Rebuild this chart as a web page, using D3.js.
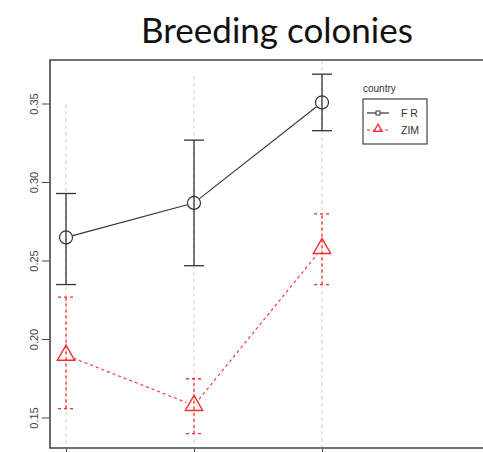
<!DOCTYPE html>
<html>
<head>
<meta charset="utf-8">
<script src="https://cdn.jsdelivr.net/npm/d3@7"></script>
<style>
body { margin: 0; background: #fff; }
svg { display: block; }
.axis text { font-family: "Liberation Sans", Arial, sans-serif; font-size: 11px; fill: #444; }
</style>
</head>
<body>
<svg id="chart" width="483" height="452"></svg>
<script>
// data
var groups = ["1", "2", "3"];
var frMean = [0.265, 0.287, 0.351];
var frLow  = [0.235, 0.247, 0.333];
var frHigh = [0.293, 0.327, 0.369];
var zimMean = [0.190, 0.158, 0.258];
var zimLow  = [0.156, 0.140, 0.235];
var zimHigh = [0.227, 0.175, 0.280];
var guideTop = [0.350, 0.368, 0.378];
var yTicks = [0.15, 0.20, 0.25, 0.30, 0.35];

var svg = d3.select("#chart");

var xScale = d3.scalePoint().domain(groups).range([66, 322]);
var yScale = d3.scaleLinear().domain([0.15, 0.35]).range([418, 104]);

var frame = {left: 50, top: 60, bottom: 448};

// title
svg.append("text")
	.attr("x", 277)
	.attr("y", 43)
	.attr("text-anchor", "middle")
	.attr("style", "font-family: Lato, 'Open Sans', sans-serif; font-size: 35px; fill: #111;")
	.text("Breeding colonies");

// light dashed guides at each group
svg.append("g").selectAll("line")
	.data(groups)
	.enter().append("line")
	.attr("x1", function(d) { return xScale(d); })
	.attr("x2", function(d) { return xScale(d); })
	.attr("y1", function(d, i) { return yScale(guideTop[i]); })
	.attr("y2", frame.bottom)
	.style("stroke", "#d0d0d0")
	.style("stroke-width", 1)
	.style("stroke-dasharray", "4,3");

// frame
svg.append("path")
	.attr("d", "M500," + frame.top + "H" + frame.left + "V" + frame.bottom + "H500")
	.style("fill", "none")
	.style("stroke", "#444")
	.style("stroke-width", 1.6);

// y axis
var yAxis = d3.axisLeft(yScale).tickValues(yTicks).tickFormat(d3.format(".2f")).tickSize(7);
var gy = svg.append("g")
	.attr("class", "axis")
	.attr("transform", "translate(" + (frame.left - 1) + ",0)")
	.call(yAxis);
gy.select(".domain").remove();
gy.selectAll("line").style("stroke", "#444");
gy.selectAll("text")
	.attr("x", 0)
	.attr("y", 0)
	.attr("text-anchor", "middle")
	.attr("dy", "0.35em")
	.attr("transform", function(d) { return "translate(-15," + yScale(d) + ") rotate(-90)"; });
gy.selectAll(".tick").attr("transform", null);
gy.selectAll(".tick line")
	.attr("y1", function(d) { return yScale(d); })
	.attr("y2", function(d) { return yScale(d); });

// x ticks (labels fall outside the picture)
var xAxis = d3.axisBottom(xScale).tickSize(6).tickFormat("");
var gx = svg.append("g")
	.attr("class", "axis")
	.attr("transform", "translate(0," + (frame.bottom + 1) + ")")
	.call(xAxis);
gx.select(".domain").remove();
gx.selectAll("line").style("stroke", "#444");

function series(mean, low, high, color, dash, cap, gap) {
	var g = svg.append("g");
	// connecting segments, trimmed at the markers
	for (var i = 0; i < mean.length - 1; i++) {
		var x1 = xScale(groups[i]), y1 = yScale(mean[i]);
		var x2 = xScale(groups[i + 1]), y2 = yScale(mean[i + 1]);
		var len = Math.sqrt((x2 - x1) * (x2 - x1) + (y2 - y1) * (y2 - y1));
		var ux = (x2 - x1) / len, uy = (y2 - y1) / len;
		g.append("line")
			.attr("x1", x1 + ux * gap).attr("y1", y1 + uy * gap)
			.attr("x2", x2 - ux * gap).attr("y2", y2 - uy * gap)
			.style("stroke", color)
			.style("stroke-width", 1.1)
			.style("stroke-dasharray", dash);
	}
	// error bars
	groups.forEach(function(d, i) {
		var x = xScale(d);
		g.append("line")
			.attr("x1", x).attr("x2", x)
			.attr("y1", yScale(low[i])).attr("y2", yScale(high[i]))
			.style("stroke", color).style("stroke-width", 1.3).style("stroke-dasharray", dash);
		[low[i], high[i]].forEach(function(v) {
			g.append("line")
				.attr("x1", x - cap).attr("x2", x + cap)
				.attr("y1", yScale(v)).attr("y2", yScale(v))
				.style("stroke", color).style("stroke-width", 1.3).style("stroke-dasharray", dash);
		});
	});
	return g;
}

var frG = series(frMean, frLow, frHigh, "#333", null, 10, 7);
frG.selectAll(".pt")
	.data(frMean)
	.enter().append("circle")
	.attr("cx", function(d, i) { return xScale(groups[i]); })
	.attr("cy", function(d) { return yScale(d); })
	.attr("r", 6.5)
	.style("fill", "none")
	.style("stroke", "#333")
	.style("stroke-width", 1.2);

var zimG = series(zimMean, zimLow, zimHigh, "#ff2a2a", "3,3", 8, 8);
var tri = d3.symbol().type(d3.symbolTriangle).size(130);
zimG.selectAll(".pt")
	.data(zimMean)
	.enter().append("path")
	.attr("d", tri)
	.attr("transform", function(d, i) { return "translate(" + xScale(groups[i]) + "," + yScale(d) + ")"; })
	.style("fill", "none")
	.style("stroke", "#ff2a2a")
	.style("stroke-width", 1.4);

// legend
var legend = svg.append("g").attr("transform", "translate(363,99)");
legend.append("text")
	.attr("x", 0).attr("y", -7)
	.attr("style", "font-family: 'Liberation Sans', Arial, sans-serif; font-size: 10px; fill: #333;")
	.text("country");
legend.append("rect")
	.attr("width", 64).attr("height", 45)
	.style("fill", "none").style("stroke", "#444").style("stroke-width", 1.2);
var keys = [
	{name: "F R", color: "#333", dash: null, y: 14},
	{name: "ZIM", color: "#ff2a2a", dash: "3,3", y: 31}
];
keys.forEach(function(k) {
	legend.append("line")
		.attr("x1", 4).attr("x2", 26).attr("y1", k.y).attr("y2", k.y)
		.style("stroke", k.color).style("stroke-width", 1.2).style("stroke-dasharray", k.dash);
	legend.append("text")
		.attr("x", 38).attr("y", k.y + 4)
		.attr("style", "font-family: 'Liberation Sans', Arial, sans-serif; font-size: 10.5px; fill: #333;")
		.text(k.name);
});
legend.append("rect")
	.attr("x", 13).attr("y", 12).attr("width", 4).attr("height", 4)
	.style("fill", "#fff").style("stroke", "#333");
legend.append("path")
	.attr("d", d3.symbol().type(d3.symbolTriangle).size(30))
	.attr("transform", "translate(15,30)")
	.style("fill", "none").style("stroke", "#ff2a2a").style("stroke-width", 1.3);
</script>
</body>
</html>
